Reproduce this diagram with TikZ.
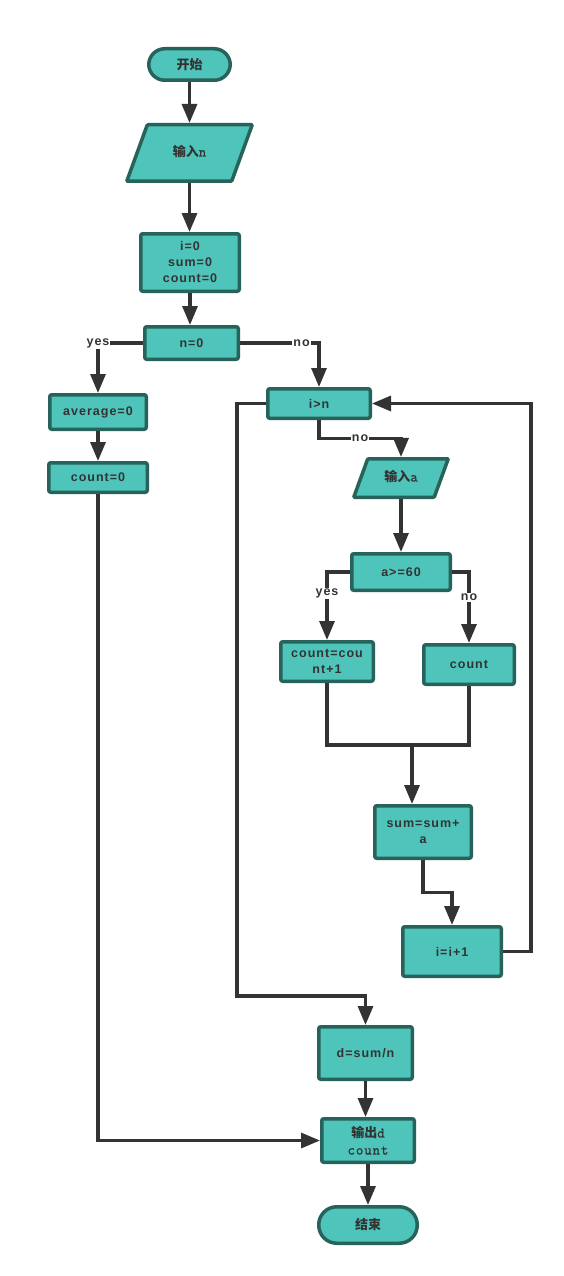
\documentclass[tikz,border=0pt]{standalone}
\usepackage{fontspec}
\usetikzlibrary{arrows.meta,shapes.geometric,calc}
\setmainfont{Liberation Sans}
\newfontfamily\lab{Liberation Sans}[LetterSpace=8]
\newfontfamily\cjkf{Noto Sans CJK SC}
\newfontfamily\mono{Latin Modern Mono}[LetterSpace=6,FakeBold=1]
\newcommand\zh[1]{{\cjkf\bfseries\fontsize{13}{15}\selectfont #1}}
\newcommand\mt[1]{{\mono\mdseries\fontsize{14.5}{15}\selectfont #1}}
\definecolor{fillc}{HTML}{4FC4BA}
\definecolor{bord}{HTML}{27635A}
\definecolor{linec}{HTML}{333333}
\definecolor{txt}{HTML}{333333}
\tikzset{
  box/.style={draw=bord, fill=fillc, line width=3.5pt, rounded corners=2pt, text=txt,
    font=\lab\bfseries\fontsize{12.5}{16}\selectfont, align=center, inner sep=0pt},
  term/.style={box, rounded corners=16pt},
  io/.style={box, trapezium, trapezium left angle=70, trapezium right angle=110,
    trapezium stretches body, rounded corners=1pt, text height=10pt, text depth=3pt,
    inner xsep=0pt},
  conn/.style={draw=linec, line width=3.2pt, -{Triangle[length=19pt,width=15pt]}},
  plain/.style={draw=linec, line width=3.2pt},
  lbl/.style={fill=white, text=txt, inner sep=1pt, font=\lab\bfseries\fontsize{12.5}{14}\selectfont}
}
\begin{document}
\begin{tikzpicture}[x=1pt,y=-1pt]
\fill[white] (0,0) rectangle (564,1276);
\useasboundingbox (0,0) rectangle (564,1276);
% nodes
\node[term, minimum width=81.5pt, minimum height=31.5pt] (start) at (189.5,64.5) {\zh{开始}};
\node[io, minimum width=125.5pt, inner ysep=21.75pt] (inn) at (189.5,153) {\zh{输入}\mt{n}};
\node[box, minimum width=98.5pt, minimum height=57.5pt] (init) at (190,262.5) {i=0\\sum=0\\count=0};
\node[box, minimum width=93.5pt, minimum height=32.5pt] (n0) at (191.5,343) {n=0};
\node[box, minimum width=96.5pt, minimum height=34.5pt] (avg) at (98,412) {average=0};
\node[box, minimum width=98.5pt, minimum height=29.5pt] (cnt0) at (98,477.5) {count=0};
\node[box, minimum width=102.5pt, minimum height=29.5pt] (igtn) at (319,403.5) {i>n};
\node[io, minimum width=94.5pt, inner ysep=12.75pt] (ina) at (401,478) {\zh{输入}\mt{a}};
\node[box, minimum width=98.5pt, minimum height=36.5pt] (a60) at (401,572) {a>=60};
\node[box, minimum width=92.5pt, minimum height=39.5pt] (cc1) at (327,661.5) {count=cou\\nt+1};
\node[box, minimum width=90.5pt, minimum height=39.5pt] (cnt) at (469,664.5) {count};
\node[box, minimum width=96.5pt, minimum height=52.5pt] (sum) at (423,832) {sum=sum+\\a};
\node[box, minimum width=98.5pt, minimum height=49.5pt] (inc) at (452,951.5) {i=i+1};
\node[box, minimum width=93.5pt, minimum height=52.5pt] (dsum) at (365.5,1053) {d=sum/n};
\node[box, minimum width=92.5pt, minimum height=43.5pt, font=\lab\bfseries\fontsize{12.5}{17}\selectfont] (out) at (368,1140.5) {\zh{输出}\mt{d}\\\mt{count}};
\node[term, minimum width=98.5pt, minimum height=36.5pt, rounded corners=18pt] (end) at (368,1225) {\zh{结束}};
% coordinates
\coordinate (merge) at (412,745);
\coordinate (loopR) at (531,403.5);
\coordinate (loopL) at (237,996);
% connectors
\draw[conn] (start.south) -- (start.south |- inn.north);
\draw[conn] (inn.south) -- (inn.south |- init.north);
\draw[conn] (init.south) -- (init.south |- n0.north);
\draw[conn] (n0.west) -| node[lbl, pos=0.5] {yes} (avg.north);
\draw[conn] (n0.east) -| node[lbl, pos=0.39] {no} (igtn.north);
\draw[conn] (avg) -- (cnt0);
\draw[conn] (cnt0.south) |- (out.west);
\draw[conn] (igtn.south) |- ($(igtn.south)!0.5!(ina.north)$) node[lbl] {no} -| (ina.north);
\draw[conn] (igtn.west) -| (loopL) -| (dsum.north);
\draw[conn] (ina.south) -- (ina.south |- a60.north);
\draw[conn] (a60.west) -| node[lbl, pos=0.66] {yes} (cc1.north);
\draw[conn] (a60.east) -| node[lbl, pos=0.68] {no} (cnt.north);
\draw[plain] (cc1.south) |- (merge);
\draw[plain] (cnt.south) |- (merge);
\draw[conn] (merge) -- (merge |- sum.north);
\draw[conn] (sum.south) |- ($(sum.south)!0.5!(inc.north)$) -| (inc.north);
\draw[conn] (inc.east) -| (loopR) -- (igtn.east);
\draw[conn] (dsum.south) -- (dsum.south |- out.north);
\draw[conn] (out) -- (end);
\end{tikzpicture}
\end{document}
